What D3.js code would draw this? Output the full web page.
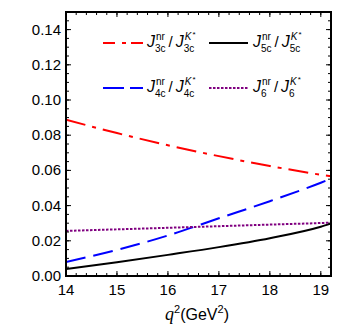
<!DOCTYPE html>
<html>
<head>
<meta charset="utf-8">
<script src="https://cdn.jsdelivr.net/npm/d3@7"></script>
<style>
body{margin:0;background:#fff;}
text{font-family:"Liberation Sans",Arial,sans-serif;}
</style>
</head>
<body>
<script>
var W = 339, H = 332;
var q2 = [14, 15, 16, 17, 18, 19, 19.2];
var j3 = [0.0888, 0.0812, 0.0743, 0.0681, 0.0625, 0.0575, 0.0566];
var j4 = [0.0080, 0.0148, 0.0230, 0.0328, 0.0425, 0.0530, 0.0553];
var j5 = [0.0040, 0.0078, 0.0120, 0.0164, 0.0215, 0.0280, 0.0298];
var j6 = [0.0256, 0.0265, 0.0274, 0.0283, 0.0292, 0.0301, 0.0303];
var xTicks = [14, 15, 16, 17, 18, 19];
var yTicks = [0, 0.02, 0.04, 0.06, 0.08, 0.10, 0.12, 0.14];

var m = {l:66, t:12, r:8, b:56};
var pw = W-m.l-m.r, ph = H-m.t-m.b;

var svg = d3.select("body").append("svg")
	.attr("width", W).attr("height", H);
var g = svg.append("g").attr("transform", "translate("+m.l+","+m.t+")");

var x = d3.scaleLinear().domain([14, 19.2]).range([0, pw]);
var y = d3.scaleLinear().domain([0, 0.15]).range([ph, 0]);

var series = [
	{v:j3, color:"#ff0000", dash:"20,7,4,7", sub:"3c"},
	{v:j5, color:"#000000", dash:null, sub:"5c"},
	{v:j4, color:"#0000ff", dash:"20,8", sub:"4c"},
	{v:j6, color:"#800080", dash:"2.5,1.5", sub:"6"}
];

var line = d3.line()
	.x(function(d){ return x(d[0]); })
	.y(function(d){ return y(d[1]); })
	.curve(d3.curveMonotoneX);

g.append("clipPath").attr("id","clip").append("rect")
	.attr("width", pw).attr("height", ph);

series.forEach(function(s){
	g.append("path")
		.attr("clip-path","url(#clip)")
		.attr("d", line(q2.map(function(q,i){ return [q, s.v[i]]; })))
		.attr("fill","none")
		.attr("stroke", s.color)
		.attr("stroke-width", 2)
		.attr("stroke-dasharray", s.dash);
});

// ticks on all four sides, pointing inward
var xMinor = d3.range(14, 19.21, 0.2), yMinor = d3.range(0, 0.1501, 0.005);
function tickSet(vals, len){
	vals.forEach(function(v){
		var px = x(v);
		g.append("line").attr("x1",px).attr("x2",px).attr("y1",ph).attr("y2",ph-len).attr("stroke","#000");
		g.append("line").attr("x1",px).attr("x2",px).attr("y1",0).attr("y2",len).attr("stroke","#000");
	});
}
tickSet(xMinor, 3);
tickSet(xTicks, 5);
function ytickSet(vals, len){
	vals.forEach(function(v){
		var py = y(v);
		g.append("line").attr("x1",0).attr("x2",len).attr("y1",py).attr("y2",py).attr("stroke","#000");
		g.append("line").attr("x1",pw).attr("x2",pw-len).attr("y1",py).attr("y2",py).attr("stroke","#000");
	});
}
ytickSet(yMinor, 3);
ytickSet(yTicks, 5);

g.append("rect").attr("width",pw).attr("height",ph)
	.attr("fill","none").attr("stroke","#000").attr("stroke-width",2);

g.selectAll(".xl").data(xTicks).enter().append("text")
	.attr("x", function(d){ return x(d); })
	.attr("y", ph+19)
	.attr("text-anchor","middle")
	.attr("font-size", 15)
	.text(function(d){ return d; });

g.selectAll(".yl").data(yTicks).enter().append("text")
	.attr("x", -5)
	.attr("y", function(d){ return y(d)+5; })
	.attr("text-anchor","end")
	.attr("font-size", 15)
	.text(function(d){ return d3.format(".2f")(d); });

// axis title
var xt = svg.append("text").attr("x", 197).attr("y", 320)
	.attr("text-anchor","middle").attr("font-size", 16);
xt.append("tspan").attr("font-family","Liberation Serif, serif").attr("font-style","italic").attr("font-size",18).text("q");
xt.append("tspan").attr("dy",-7).attr("font-size",11).text("2");
xt.append("tspan").attr("dy",7).text("(GeV");
xt.append("tspan").attr("dy",-7).attr("font-size",11).text("2");
xt.append("tspan").attr("dy",7).text(")");

// legend
var serif = "Liberation Serif, serif";
function jlabel(x0, y0, sub){
	var lg = svg.append("g");
	var cx = x0;
	function put(txt, dx, dy, size, italic){
		var t = lg.append("text").attr("x", cx+dx).attr("y", y0+dy)
			.attr("font-family", serif).attr("font-size", size)
			.attr("font-style", italic ? "italic" : "normal").text(txt);
		return t.node().getComputedTextLength();
	}
	cx += put("J", 0, 0, 16, true);
	var a = put("nr", 1, -7, 10, false);
	var b = put(sub, 0, 5, 10, false);
	cx += Math.max(a+1, b) + 3;
	cx += put("/", 0, 0, 15, false) + 3;
	cx += put("J", 0, 0, 16, true);
	var k = put("K", 1, -7, 10, true);
	put("*", 2+k, -10, 8, false);
	put(sub, 0, 5, 10, false);
}
var legPos = [[103, 143, 147, 47], [209, 248, 253, 47], [103, 143, 147, 92], [209, 248, 253, 92]];
var legDash = ["12,7,4,5", null, "21,6", "2.5,1.5"];
series.forEach(function(s, i){
	var p = legPos[i];
	svg.append("line").attr("x1", p[0]).attr("x2", p[1])
		.attr("y1", p[3]-4).attr("y2", p[3]-4)
		.attr("stroke", s.color).attr("stroke-width", 2)
		.attr("stroke-dasharray", legDash[i]);
	jlabel(p[2], p[3], s.sub);
});
</script>
</body>
</html>
